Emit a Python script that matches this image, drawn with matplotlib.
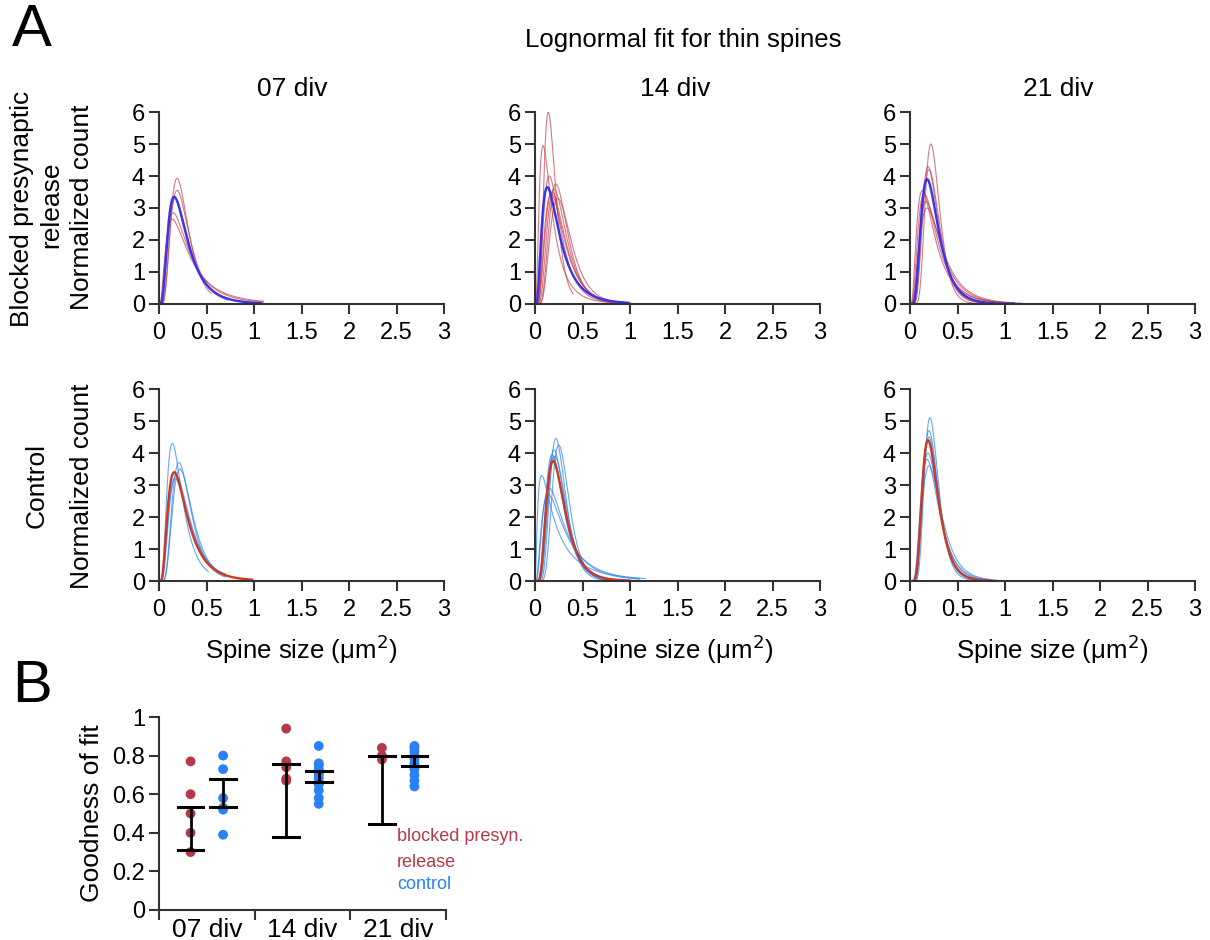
import numpy as np
import matplotlib.pyplot as plt

plt.rcParams['font.family'] = ['Liberation Sans', 'DejaVu Sans']

# ---- data: lognormal fits, given as (mode, peak height, end of curve) ----
divs = ['07 div', '14 div', '21 div']

# blocked presynaptic release, single cultures (thin red)
blk_mode = [[0.19, 0.19, 0.17, 0.15, 0.14],
            [0.14, 0.085, 0.15, 0.22, 0.20, 0.18, 0.17, 0.24],
            [0.22, 0.19, 0.20, 0.13, 0.15, 0.17, 0.18]]
blk_peak = [[3.93, 3.55, 3.30, 2.85, 2.65],
            [6.0, 4.95, 4.0, 3.75, 3.6, 3.5, 3.45, 3.3],
            [5.0, 4.3, 4.2, 3.55, 3.45, 3.2, 3.0]]
blk_end = [[0.55, 0.73, 1.1, 1.1, 1.1],
           [0.40, 1.0, 1.0, 1.0, 1.0, 1.0, 1.0, 1.0],
           [1.1, 1.1, 1.1, 1.1, 1.1, 1.1, 1.1]]
# blocked mean fit (thick blue)
blk_mean_mode = [0.16, 0.13, 0.18]
blk_mean_peak = [3.35, 3.65, 3.9]
blk_mean_end = [1.07, 0.98, 1.17]

# control, single cultures (thin blue)
ctl_mode = [[0.14, 0.21, 0.22, 0.18, 0.17],
            [0.07, 0.22, 0.25, 0.18, 0.19, 0.15, 0.14, 0.20, 0.21],
            [0.21, 0.20, 0.20, 0.19, 0.18, 0.20]]
ctl_peak = [[4.3, 3.7, 3.5, 3.3, 3.2],
            [3.3, 4.45, 4.25, 3.95, 3.85, 2.9, 2.7, 4.1, 3.9],
            [5.1, 4.7, 4.5, 4.0, 3.8, 3.6]]
ctl_end = [[0.52, 0.7, 0.7, 0.7, 0.7],
           [1.16, 1.0, 1.0, 1.0, 1.0, 1.1, 1.1, 1.0, 1.0],
           [0.85, 0.85, 0.85, 0.8, 0.85, 0.85]]
# control mean fit (thick red)
ctl_mean_mode = [0.16, 0.19, 0.19]
ctl_mean_peak = [3.4, 3.75, 4.4]
ctl_mean_end = [0.98, 1.0, 0.9]

# ---- panel B: goodness of fit ----
gof_blk = [[0.77, 0.60, 0.50, 0.40, 0.30],
           [0.94, 0.77, 0.74, 0.68, 0.67],
           [0.84, 0.80, 0.78]]
gof_ctl = [[0.80, 0.73, 0.58, 0.53, 0.52, 0.39],
           [0.85, 0.76, 0.75, 0.73, 0.71, 0.70, 0.68, 0.66, 0.65, 0.62, 0.58, 0.55],
           [0.85, 0.84, 0.82, 0.80, 0.78, 0.76, 0.73, 0.70, 0.67, 0.64]]
bar_blk = [[0.31, 0.535], [0.38, 0.755], [0.445, 0.80]]
bar_ctl = [[0.535, 0.68], [0.665, 0.72], [0.745, 0.80]]

RED_THIN = '#c2414f'
BLUE_THIN = '#2b80f2'
BLUE_MEAN = '#3535ee'
RED_MEAN = '#cc3b1f'
RED_PT = '#b5394b'
BLUE_PT = '#2a80f5'
SPINE = '#333333'

TICK_FS = 17
LABEL_FS = 19


def lognorm_curve(mode, peak, xend, n=400):
    # find sigma so that the pdf peak at the mode equals the given height
    target = peak * mode * np.sqrt(2 * np.pi)
    lo, hi = 0.05, 3.0
    for _ in range(60):
        s = 0.5 * (lo + hi)
        if np.exp(-s * s / 2) / s > target:
            lo = s
        else:
            hi = s
    mu = np.log(mode) + s * s
    x = np.linspace(1e-4, xend, n)
    y = np.exp(-(np.log(x) - mu) ** 2 / (2 * s * s)) / (x * s * np.sqrt(2 * np.pi))
    return x, y


def style_axes(ax):
    for side in ['top', 'right']:
        ax.spines[side].set_visible(False)
    for side in ['left', 'bottom']:
        ax.spines[side].set_linewidth(1.5)
        ax.spines[side].set_color(SPINE)
    ax.tick_params(direction='out', length=7, width=1.5, color=SPINE,
                   labelsize=TICK_FS)


W, H = 1210, 940
fig = plt.figure(figsize=(W / 100, H / 100), dpi=100)


def px_axes(x0, x1, ytop, ybot):
    return fig.add_axes([x0 / W, 1 - ybot / H, (x1 - x0) / W, (ybot - ytop) / H])


col_x = [159, 535, 910]
title_x = [292, 675, 1058]
rows = [(112, 304), (389, 581)]

for r, (yt, yb) in enumerate(rows):
    for c in range(3):
        ax = px_axes(col_x[c], col_x[c] + 285, yt, yb)
        style_axes(ax)
        if r == 0:
            for m, p, e in zip(blk_mode[c], blk_peak[c], blk_end[c]):
                x, y = lognorm_curve(m, p, e)
                ax.plot(x, y, color=RED_THIN, lw=0.8, alpha=0.7)
            x, y = lognorm_curve(blk_mean_mode[c], blk_mean_peak[c], blk_mean_end[c])
            ax.plot(x, y, color=BLUE_MEAN, lw=1.7)
        else:
            for m, p, e in zip(ctl_mode[c], ctl_peak[c], ctl_end[c]):
                x, y = lognorm_curve(m, p, e)
                ax.plot(x, y, color=BLUE_THIN, lw=0.8, alpha=0.7)
            x, y = lognorm_curve(ctl_mean_mode[c], ctl_mean_peak[c], ctl_mean_end[c])
            ax.plot(x, y, color=RED_MEAN, lw=1.7)
        ax.set_xlim(0, 3)
        ax.set_ylim(0, 6)
        ax.set_xticks([0, 0.5, 1, 1.5, 2, 2.5, 3])
        ax.set_xticklabels(['0', '0.5', '1', '1.5', '2', '2.5', '3'])
        ax.set_yticks(range(7))
        ax.tick_params(axis='x', pad=6)
        ax.tick_params(axis='y', pad=3)
        if r == 0:
            fig.text(title_x[c] / W, 1 - 89 / H, divs[c], fontsize=LABEL_FS,
                     ha='center', va='center')
        else:
            ax.set_xlabel('Spine size (\u03bcm$^2$)', fontsize=18.5, labelpad=8)

# row labels
fig.text(22 / W, 1 - 209 / H, 'Blocked presynaptic', rotation=90,
         fontsize=LABEL_FS, ha='center', va='center')
fig.text(51 / W, 1 - 205 / H, 'release', rotation=90, fontsize=LABEL_FS,
         ha='center', va='center')
fig.text(82 / W, 1 - 207 / H, 'Normalized count', rotation=90,
         fontsize=LABEL_FS, ha='center', va='center')
fig.text(37 / W, 1 - 485 / H, 'Control', rotation=90, fontsize=LABEL_FS,
         ha='center', va='center')
fig.text(82 / W, 1 - 486 / H, 'Normalized count', rotation=90,
         fontsize=LABEL_FS, ha='center', va='center')

fig.text(683 / W, 1 - 40 / H, 'Lognormal fit for thin spines', fontsize=18.5,
         ha='center', va='center')
fig.text(12 / W, 1 - 30 / H, 'A', fontsize=43, ha='left', va='center')
fig.text(12 / W, 1 - 686 / H, 'B', fontsize=43, ha='left', va='center')

# ---- panel B ----
axb = px_axes(159, 446, 717, 910)
style_axes(axb)
off = 0.17
cap = 0.135
for g in range(3):
    cx = g + 0.5
    xr = cx - off
    xb = cx + off
    axb.scatter([xr] * len(gof_blk[g]), gof_blk[g], s=50, color=RED_PT,
                edgecolors='none', zorder=2, clip_on=False)
    axb.scatter([xb] * len(gof_ctl[g]), gof_ctl[g], s=50, color=BLUE_PT,
                edgecolors='none', zorder=2, clip_on=False)
    for xc, (lo, hi) in [(xr, bar_blk[g]), (xb, bar_ctl[g])]:
        axb.plot([xc, xc], [lo, hi], color='black', lw=2, zorder=3)
        axb.plot([xc - cap, xc + cap], [lo, lo], color='black', lw=2.2, zorder=3)
        axb.plot([xc - cap, xc + cap], [hi, hi], color='black', lw=2.2, zorder=3)
axb.set_xlim(0, 3)
axb.set_ylim(0, 1)
axb.set_yticks([0, 0.2, 0.4, 0.6, 0.8, 1])
axb.set_yticklabels(['0', '0.2', '0.4', '0.6', '0.8', '1'])
axb.set_xticks([0, 1, 2, 3])
axb.set_xticklabels([])
axb.set_xticks([0.5, 1.5, 2.5], minor=True)
axb.set_xticklabels(divs, minor=True, fontsize=LABEL_FS)
axb.tick_params(axis='x', which='minor', length=0, pad=6)
axb.tick_params(axis='y', pad=3)
axb.set_ylabel('Goodness of fit', fontsize=LABEL_FS, labelpad=6)

axb.text(2.49, 0.38, 'blocked presyn.', color=RED_PT, fontsize=13,
         ha='left', va='center', clip_on=False)
axb.text(2.49, 0.245, 'release', color=RED_PT, fontsize=13,
         ha='left', va='center', clip_on=False)
axb.text(2.49, 0.13, 'control', color=BLUE_PT, fontsize=13,
         ha='left', va='center', clip_on=False)

fig.savefig('out.png', dpi=100)
